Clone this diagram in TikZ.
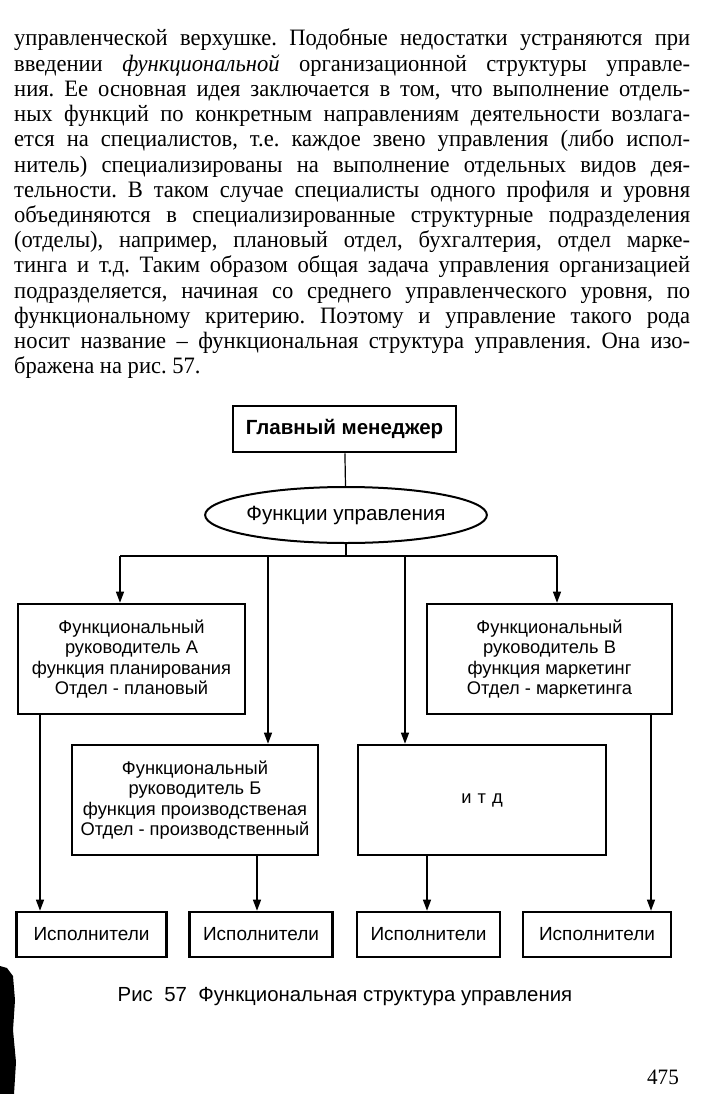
\documentclass[tikz,border=0pt]{standalone}
\usepackage{fontspec}
\setmainfont{Liberation Serif}[FakeStretch=0.96]
\setsansfont{Liberation Sans}
\usetikzlibrary{arrows.meta,shapes.geometric}
\tikzset{
  box/.style={draw,line width=2.6pt,inner sep=0pt,align=center,
    font=\sffamily\fontsize{18.3}{20.5}\selectfont},
  oval/.style={draw,ellipse,line width=2pt,inner sep=0pt,
    font=\sffamily\fontsize{20.6}{22}\selectfont},
  conn/.style={line width=1.2pt},
  arr/.style={conn,-{Triangle[length=11pt,width=8pt]}},
  bodyline/.style={anchor=base west,inner sep=0pt,font=\fontsize{23.5}{25.2}\selectfont},
}
\newcommand{\jline}[1]{\makebox[676pt][s]{#1}}
\begin{document}
\frenchspacing
\begin{tikzpicture}[x=1pt,y=-1pt]
\useasboundingbox[fill=white] (0,0) rectangle (703,1094);
% body text
\node[bodyline] (l1) at (14,46) {\jline{управленческой верхушке. Подобные недостатки устраняются при}};
\node[bodyline] (l2) at (14,71.2) {\jline{введении \textit{функциональной} организационной структуры управле-}};
\node[bodyline] (l3) at (14,96.4) {\jline{ния. Ее основная идея заключается в том, что выполнение отдель-}};
\node[bodyline] (l4) at (14,121.6) {\jline{ных функций по конкретным направлениям деятельности возлага-}};
\node[bodyline] (l5) at (14,146.8) {\jline{ется на специалистов, т.е. каждое звено управления (либо испол-}};
\node[bodyline] (l6) at (14,172) {\jline{нитель) специализированы на выполнение отдельных видов дея-}};
\node[bodyline] (l7) at (14,197.2) {\jline{тельности. В таком случае специалисты одного профиля и уровня}};
\node[bodyline] (l8) at (14,222.4) {\jline{объединяются в специализированные структурные подразделения}};
\node[bodyline] (l9) at (14,247.6) {\jline{(отделы), например, плановый отдел, бухгалтерия, отдел марке-}};
\node[bodyline] (l10) at (14,272.8) {\jline{тинга и т.д. Таким образом общая задача управления организацией}};
\node[bodyline] (l11) at (14,298) {\jline{подразделяется, начиная со среднего управленческого уровня, по}};
\node[bodyline] (l12) at (14,323.2) {\jline{функциональному критерию. Поэтому и управление такого рода}};
\node[bodyline] (l13) at (14,348.4) {\jline{носит название – функциональная структура управления. Она изо-}};
\node[bodyline] (l14) at (14,373.6) {бражена на рис. 57.};
% diagram
\node[box,minimum width=223pt,minimum height=46pt,font=\sffamily\bfseries\fontsize{20.5}{22}\selectfont] (gm) at (344.5,429) {Главный менеджер};
\node[oval,minimum width=248pt,minimum height=56pt] (fu) at (346,515) {Функции управления};
\node[box,minimum width=227pt,minimum height=110pt] (A) at (131.5,659) {Функциональный\\руководитель А\\функция планирования\\Отдел - плановый};
\node[box,minimum width=245pt,minimum height=110pt] (V) at (549.5,659) {Функциональный\\руководитель В\\функция маркетинг\\Отдел - маркетинга};
\node[box,minimum width=246pt,minimum height=110pt] (B) at (195,800) {Функциональный\\руководитель Б\\функция производственая\\Отдел - производственный};
\node[box,minimum width=248pt,minimum height=110pt] (D) at (482,800) {и\,\,т\,\,д};
\node[box,minimum width=150pt,minimum height=45pt,font=\sffamily\fontsize{19}{21}\selectfont] (I1) at (91.5,934.5) {Исполнители};
\node[box,minimum width=143pt,minimum height=45pt,font=\sffamily\fontsize{19}{21}\selectfont] (I2) at (261,934.5) {Исполнители};
\node[box,minimum width=143pt,minimum height=45pt,font=\sffamily\fontsize{19}{21}\selectfont] (I3) at (428.5,934.5) {Исполнители};
\node[box,minimum width=148pt,minimum height=45pt,font=\sffamily\fontsize{19}{21}\selectfont] (I4) at (597,934.5) {Исполнители};
% connectors
\coordinate (bL) at (120,556);
\coordinate (bR) at (557,556);
\coordinate (bB) at (268,556);
\coordinate (bD) at (405,556);
\draw[conn] (gm) -- (fu);
\draw[conn] (fu.south) -- (fu.south |- bL);
\draw[conn] (bL) -- (bR);
\draw[arr] (bL) -- (bL |- A.north);
\draw[arr] (bR) -- (bR |- V.north);
\draw[arr] (bB) -- (bB |- B.north);
\draw[arr] (bD) -- (bD |- D.north);
\coordinate (x1) at (40,0);
\coordinate (x2) at (257,0);
\coordinate (x3) at (427,0);
\coordinate (x4) at (651,0);
\draw[arr] (A.south -| x1) -- (I1.north -| x1);
\draw[arr] (B.south -| x2) -- (I2.north -| x2);
\draw[arr] (D.south -| x3) -- (I3.north -| x3);
\draw[arr] (V.south -| x4) -- (I4.north -| x4);
% caption and page number
\node[inner sep=0pt,font=\sffamily\fontsize{20.4}{22}\selectfont] (cap) at (345,997) {Рис\ \ 57\ \ Функциональная структура управления};
\node[inner sep=0pt,anchor=base east,font=\fontsize{22}{24}\selectfont] (pg) at (679,1084) {475};
% scan edge
\fill[black] (0,966) -- (7,968) -- (13,976) -- (15,1000) -- (13,1030) -- (16,1062) -- (14,1094) -- (0,1094) -- cycle;
\end{tikzpicture}
\end{document}
